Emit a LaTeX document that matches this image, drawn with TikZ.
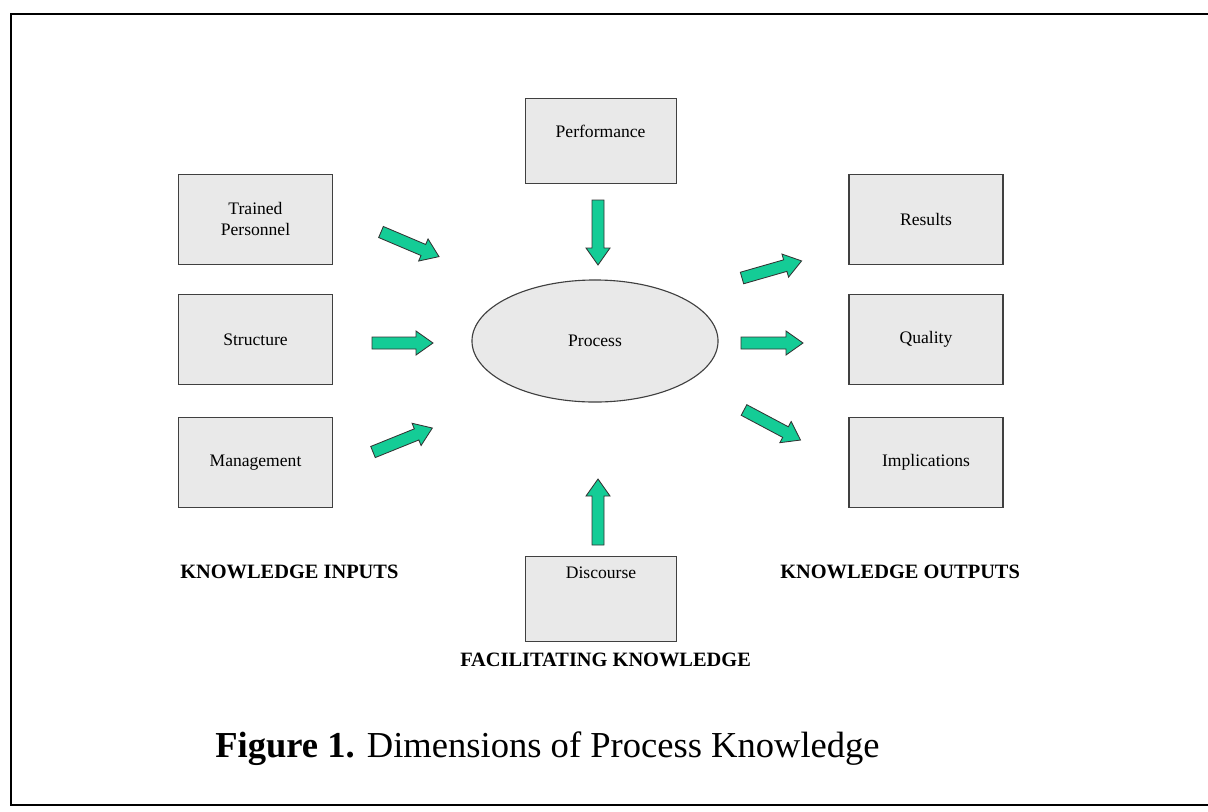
\documentclass[tikz,border=0pt]{standalone}
\usepackage{fontspec}
\setmainfont{Liberation Serif}
\usetikzlibrary{positioning,shapes.geometric}

\definecolor{boxgrey}{RGB}{233,233,233}
\definecolor{arrowgreen}{RGB}{20,204,150}
\newcommand\boxfont{\fontsize{12.5}{15}\selectfont}
\newcommand\headfont{\fontsize{14.5}{17}\selectfont\bfseries}
\newcommand\capfont{\fontsize{26}{30}\selectfont}

\tikzset{
  box/.style={draw=black!75, fill=boxgrey, line width=0.8pt,
    minimum width=3.85cm, minimum height=2.25cm, align=center, font=\boxfont},
  smallbox/.style={box, minimum width=3.775cm, minimum height=2.125cm},
  heading/.style={font=\headfont, anchor=base west, inner sep=0pt},
  arrowpaint/.style={fill=arrowgreen, draw=black!80, line width=0.6pt},
  pics/fatarrow/.style={code={
    \draw[arrowpaint] (0,-6) -- (#1-17,-6) -- (#1-17,-12) -- (#1,0)
      -- (#1-17,12) -- (#1-17,6) -- (0,6) -- cycle;
  }}
}

\begin{document}
\begin{tikzpicture}[x=0.025cm, y=-0.025cm]
    \useasboundingbox (0,0) rectangle (1208,811);
    \draw[line width=1.4pt] (11,14) rectangle (1220,805);

    \node[ellipse, draw=black!75, fill=boxgrey, line width=0.8pt,
      minimum width=6.15cm, minimum height=3.05cm, font=\boxfont]
      (process) at (595,341) {Process};

    % inputs
    \node[box] (structure) at (255.5,339.5) {Structure};
    \node[box, above=0.725cm of structure] (trained) {Trained\\Personnel};
    \node[box, below=0.8cm of structure] (management) {Management};

    % outputs
    \node[box] (quality) at (926,339.5) {Quality};
    \node[box, above=0.725cm of quality] (results) {Results};
    \node[box, below=0.8cm of quality] (implications) {Implications};

    % facilitating
    \node[smallbox, above=2.375cm of process, xshift=0.14cm,
      label={[font=\boxfont, yshift=0.25cm]center:Performance}]
      (performance) {};
    \node[smallbox, below=3.825cm of process, xshift=0.15cm,
      label={[font=\boxfont, yshift=0.65cm]center:Discourse}]
      (discourse) {};

    % block arrows
    \pic[rotate=-23] (arrTrained) at (381,232) {fatarrow=63};
    \pic (arrStructure) at (372,343) {fatarrow=61};
    \pic[rotate=22] (arrManagement) at (373,452) {fatarrow=64};
    \pic[rotate=-90] (arrPerformance) at (598,200) {fatarrow=65};
    \pic[rotate=90] (arrDiscourse) at (598,545) {fatarrow=66};
    \pic[rotate=16] (arrResults) at (742,278) {fatarrow=62};
    \pic (arrQuality) at (741,343) {fatarrow=62};
    \pic[rotate=-28] (arrImplications) at (744,410) {fatarrow=64};

    \node[heading] (inputs) at (180,578) {KNOWLEDGE INPUTS};
    \node[heading] (outputs) at (780,578) {KNOWLEDGE OUTPUTS};
    \node[heading] (facilitating) at (460,666) {FACILITATING KNOWLEDGE};

    \node[anchor=base west, inner sep=0pt, font=\capfont] (caption) at (215,757)
      {\textbf{Figure 1.} Dimensions of Process Knowledge};
\end{tikzpicture}
\end{document}
